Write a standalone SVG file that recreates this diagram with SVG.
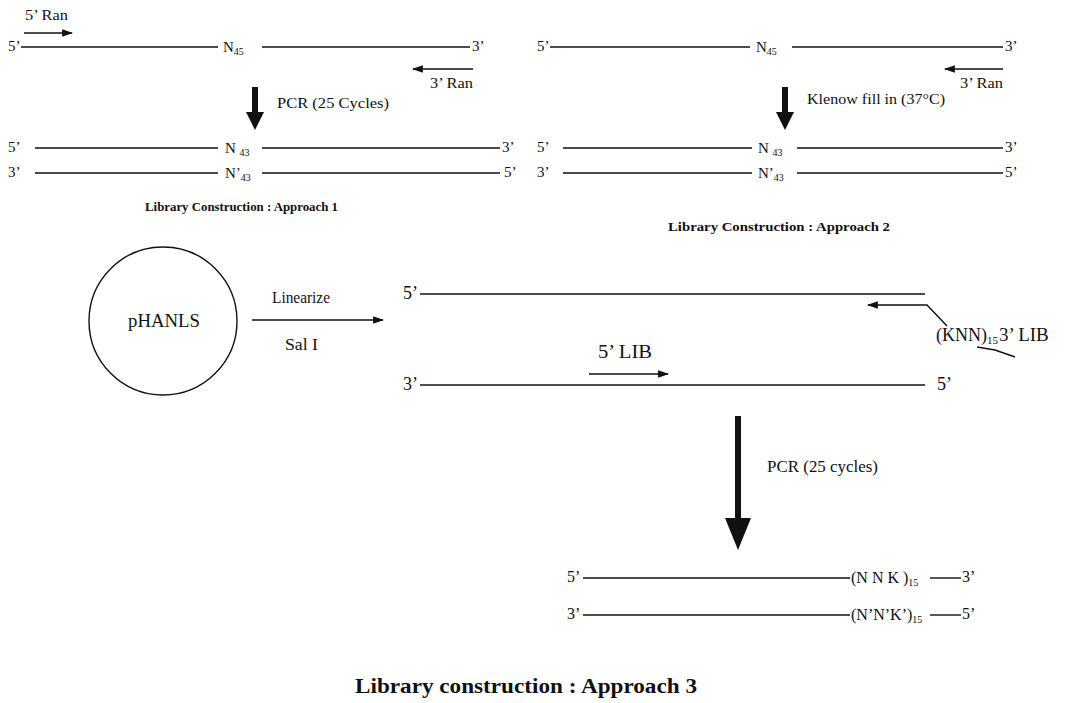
<svg xmlns="http://www.w3.org/2000/svg" width="1070" height="703" viewBox="0 0 1070 703">
<style>
text{font-family:"Liberation Serif","Times New Roman",serif;fill:#111}
.s13{font-size:14px}.s14{font-size:15px}.s15{font-size:16px}.s16{font-size:18px}
.title{font-weight:bold;font-size:12px}
.sub{font-size:10px}
.ln{stroke:#111;stroke-width:1.4;fill:none}
.thick{fill:#111;stroke:none}
</style>
<defs>
<marker id="ah" viewBox="0 0 10 10" refX="9" refY="5" markerWidth="11" markerHeight="11" markerUnits="userSpaceOnUse" orient="auto">
<path d="M0,1.5 L10,5 L0,8.5 Z" fill="#111"/>
</marker>
</defs>
<rect width="1070" height="703" fill="#fff"/>

<g id="approach1">
<text class="s13" x="25" y="20" textLength="43" lengthAdjust="spacingAndGlyphs">5’ Ran</text>
<text class="s14" x="8" y="51">5’</text>
<text class="s14" x="223" y="52">N<tspan class="sub" dy="3">45</tspan></text>
<text class="s14" x="472" y="51">3’</text>
<text class="s13" x="430" y="88" textLength="43" lengthAdjust="spacingAndGlyphs">3’ Ran</text>
<text class="s14" x="277" y="108" textLength="112" lengthAdjust="spacingAndGlyphs">PCR (25 Cycles)</text>
<text class="s14" x="8" y="152">5’</text>
<text class="s14" x="225" y="153">N <tspan class="sub" dy="3">43</tspan></text>
<text class="s14" x="502" y="152">3’</text>
<text class="s14" x="8" y="177">3’</text>
<text class="s14" x="225" y="178">N’<tspan class="sub" dy="3">43</tspan></text>
<text class="s14" x="504" y="177">5’</text>
<text class="title" x="145" y="211" textLength="193" lengthAdjust="spacingAndGlyphs">Library Construction : Approach 1</text>
</g>

<g id="approach2">
<text class="s14" x="537" y="51">5’</text>
<text class="s14" x="756" y="52">N<tspan class="sub" dy="3">45</tspan></text>
<text class="s14" x="1005" y="51">3’</text>
<text class="s13" x="960" y="88" textLength="43" lengthAdjust="spacingAndGlyphs">3’ Ran</text>
<text class="s14" x="807" y="104" textLength="138" lengthAdjust="spacingAndGlyphs">Klenow fill in (37°C)</text>
<text class="s14" x="537" y="152">5’</text>
<text class="s14" x="758" y="153">N <tspan class="sub" dy="3">43</tspan></text>
<text class="s14" x="1005" y="152">3’</text>
<text class="s14" x="537" y="177">3’</text>
<text class="s14" x="758" y="178">N’<tspan class="sub" dy="3">43</tspan></text>
<text class="s14" x="1005" y="177">5’</text>
<text class="title" x="668" y="231" textLength="222" lengthAdjust="spacingAndGlyphs">Library Construction : Approach 2</text>
</g>

<g id="plasmid">
<circle cx="163" cy="321" r="74" class="ln"/>
<text style="font-size:18px" x="164" y="327" text-anchor="middle" textLength="72" lengthAdjust="spacingAndGlyphs">pHANLS</text>
</g>

<g id="linear-template">
<text class="s15" x="272" y="303" textLength="58" lengthAdjust="spacingAndGlyphs">Linearize</text>
<text class="s15" x="285" y="350" textLength="33" lengthAdjust="spacingAndGlyphs">Sal I</text>
<text class="s16" x="403" y="299">5’</text>
<text class="s16" x="403" y="390">3’</text>
<text class="s16" x="937" y="390">5’</text>
<text class="s16" x="598" y="358" textLength="54" lengthAdjust="spacingAndGlyphs">5’ LIB</text>
<text class="s16" x="936" y="341">(KNN)<tspan style="font-size:11px" dy="3">15</tspan></text>
<text style="font-size:19px" x="999" y="341">3’ LIB</text>
<text class="s15" x="767" y="472" textLength="111" lengthAdjust="spacingAndGlyphs">PCR (25 cycles)</text>
</g>

<g id="product">
<text class="s15" x="567" y="582">5’</text>
<text class="s15" x="851" y="583">(N N K )<tspan style="font-size:10px" dy="3">15</tspan></text>
<text class="s15" x="962" y="582">3’</text>
<text class="s15" x="567" y="619">3’</text>
<text class="s15" x="851" y="620">(N’N’K’)<tspan style="font-size:10px" dy="3">15</tspan></text>
<text class="s15" x="962" y="619">5’</text>
</g>

<g id="title3">
<text x="355" y="693" style="font-weight:bold;font-size:20px" textLength="342" lengthAdjust="spacingAndGlyphs">Library construction : Approach 3</text>
</g>

<g id="connectors">
<!-- approach 1 strands -->
<line class="ln" x1="21" y1="47" x2="218" y2="47"/>
<line class="ln" x1="262" y1="47" x2="470" y2="47"/>
<line class="ln" x1="24" y1="33" x2="72" y2="33" marker-end="url(#ah)"/>
<line class="ln" x1="473" y1="69" x2="413" y2="69" marker-end="url(#ah)"/>
<path class="thick" d="M252,87 H258 V112 H264 L255,130 L246,112 H252 Z"/>
<line class="ln" x1="35" y1="148" x2="218" y2="148"/>
<line class="ln" x1="262" y1="148" x2="500" y2="148"/>
<line class="ln" x1="35" y1="173" x2="218" y2="173"/>
<line class="ln" x1="262" y1="173" x2="500" y2="173"/>
<!-- approach 2 strands -->
<line class="ln" x1="550" y1="47" x2="750" y2="47"/>
<line class="ln" x1="792" y1="47" x2="1003" y2="47"/>
<line class="ln" x1="1003" y1="69" x2="945" y2="69" marker-end="url(#ah)"/>
<path class="thick" d="M782,87 H788 V112 H794 L785,130 L776,112 H782 Z"/>
<line class="ln" x1="563" y1="148" x2="752" y2="148"/>
<line class="ln" x1="797" y1="148" x2="1003" y2="148"/>
<line class="ln" x1="563" y1="173" x2="752" y2="173"/>
<line class="ln" x1="797" y1="173" x2="1003" y2="173"/>
<!-- approach 3 -->
<line class="ln" x1="252" y1="320" x2="383" y2="320" marker-end="url(#ah)"/>
<line class="ln" x1="420" y1="294" x2="925" y2="294"/>
<line class="ln" x1="420" y1="385" x2="925" y2="385"/>
<line class="ln" x1="589" y1="374" x2="668" y2="374" marker-end="url(#ah)"/>
<polyline class="ln" points="947,326 927,305 868,305" marker-end="url(#ah)"/>
<path class="ln" d="M977,347 L995,350 L1015,357"/>
<path class="thick" d="M735,416 H741 V518 H751 L738,550 L725,518 H735 Z"/>
<line class="ln" x1="583" y1="578" x2="850" y2="578"/>
<line class="ln" x1="930" y1="578" x2="961" y2="578"/>
<line class="ln" x1="583" y1="615" x2="850" y2="615"/>
<line class="ln" x1="930" y1="615" x2="961" y2="615"/>
</g>
</svg>
